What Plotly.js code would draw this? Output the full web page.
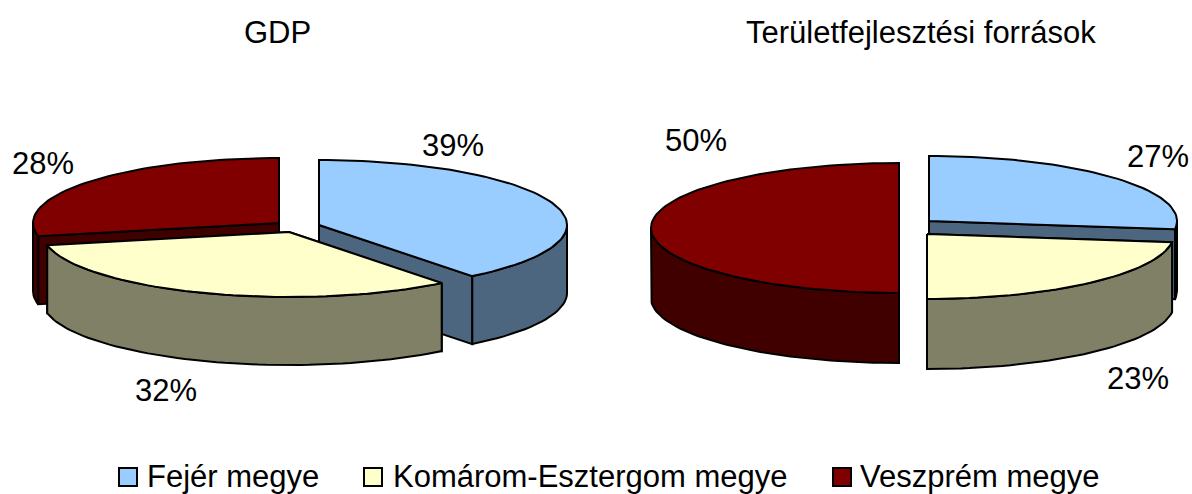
<!DOCTYPE html>
<html><head><meta charset="utf-8">
<script src="https://cdn.plot.ly/plotly-3.0.1.min.js"></script>
<style>html,body{margin:0;padding:0;background:#fff}</style></head>
<body><div id="chart" style="width:1192px;height:494px"></div>
<script>
const categories = ["Fejér megye", "Komárom-Esztergom megye", "Veszprém megye"];
const gdpValues = [39, 32, 28];
const forrasValues = [27, 23, 50];
const chartTitles = ["GDP", "Területfejlesztési források"];

const topColors = ["#99CCFF", "#FFFFCC", "#800000"];
const sideColors = ["#4D6680", "#808066", "#400000"];
const FONT = "Liberation Sans, Arial, sans-serif";

// Exploded-slice geometry of each drawn pie (axis units = pixels)
const pies = [
  { values: gdpValues, rx: [248, 247, 246], ry: 65, depth: 68, order: [2, 0, 1],
    apex: [[319, 225], [289, 232], [279, 223]] },
  { values: forrasValues, rx: [248, 247, 248], ry: 65, depth: 70, order: [0, 2, 1],
    apex: [[929, 221], [927, 234], [899, 228]] }
];
const labelSpots = [
  [[453, 145], [166, 390], [43, 163]],
  [[1158, 156], [1138, 378], [696, 140]]
];
const titleSpots = [[277, 32], [921, 32]];
const legendSpots = [[128, 147], [373, 393], [842, 860]];
const legendY = 477;

function pt(c, rx, ry, deg, dz) {
  const r = deg * Math.PI / 180;
  return [c[0] + rx * Math.sin(r), c[1] - ry * Math.cos(r) + (dz || 0)];
}
function arc(c, rx, ry, a, b, dz) {
  const out = [], n = Math.max(2, Math.ceil(Math.abs(b - a) / 2));
  for (let i = 0; i <= n; i++) out.push(pt(c, rx, ry, a + (b - a) * i / n, dz));
  return out;
}
function poly(points, color, name) {
  const xs = points.map(q => q[0]).concat(points[0][0]);
  const ys = points.map(q => q[1]).concat(points[0][1]);
  return { type: "scatter", mode: "lines", x: xs, y: ys, fill: "toself", fillcolor: color,
    line: { color: "#000", width: 2, shape: "linear" }, showlegend: false,
    hoverinfo: "text", text: name, xaxis: "x", yaxis: "y" };
}
const traces = [];
pies.forEach(p => {
  const total = p.values.reduce((s, v) => s + v, 0);
  const starts = []; let acc = 0;
  p.values.forEach(v => { starts.push(acc / total * 360); acc += v; });
  p.order.forEach(i => {
    const a = starts[i], b = a + p.values[i] / total * 360, c = p.apex[i], rx = p.rx[i];
    const name = categories[i] + ": " + p.values[i] + "%";
    const bottom = [c[0], c[1] + p.depth];
    [a, b].forEach(e => {
      traces.push(poly([c, pt(c, rx, p.ry, e), pt(c, rx, p.ry, e, p.depth), bottom], sideColors[i], name));
    });
    const lo = Math.max(a, 90), hi = Math.min(b, 270);
    if (hi > lo) {
      const rim = arc(c, rx, p.ry, lo, hi, 0).concat(arc(c, rx, p.ry, hi, lo, p.depth));
      traces.push(poly(rim, sideColors[i], name));
    }
    traces.push(poly([c].concat(arc(c, rx, p.ry, a, b, 0)), topColors[i], name));
  });
});
const annotations = [];
categories.forEach((n, i) => {
  traces.push({ type: "scatter", mode: "markers", x: [legendSpots[i][0]], y: [legendY], name: n,
    marker: { symbol: "square", size: 18, color: topColors[i], line: { color: "#000", width: 2 } },
    showlegend: false, hoverinfo: "text", text: n });
  annotations.push({ x: legendSpots[i][1], y: legendY - 1, xref: "x", yref: "y", xanchor: "left",
    showarrow: false, text: n, borderpad: 0, xshift: -1,
    font: { family: FONT, size: 31, color: "#000" } });
});
pies.forEach((p, k) => {
  p.values.forEach((v, i) => annotations.push({ x: labelSpots[k][i][0], y: labelSpots[k][i][1],
    xref: "x", yref: "y", showarrow: false, text: Math.round(v) + "%",
    font: { family: FONT, size: 31, color: "#000" } }));
  annotations.push({ x: titleSpots[k][0], y: titleSpots[k][1], xref: "x", yref: "y", showarrow: false,
    text: chartTitles[k], font: { family: FONT, size: 31, color: "#000" } });
});
Plotly.newPlot("chart", traces, {
  width: 1192, height: 494, margin: { l: 0, r: 0, t: 0, b: 0 },
  paper_bgcolor: "#fff", plot_bgcolor: "#fff", showlegend: false,
  xaxis: { range: [0, 1192], visible: false, fixedrange: true },
  yaxis: { range: [494, 0], visible: false, fixedrange: true },
  annotations
}, { displayModeBar: false });
</script></body></html>
